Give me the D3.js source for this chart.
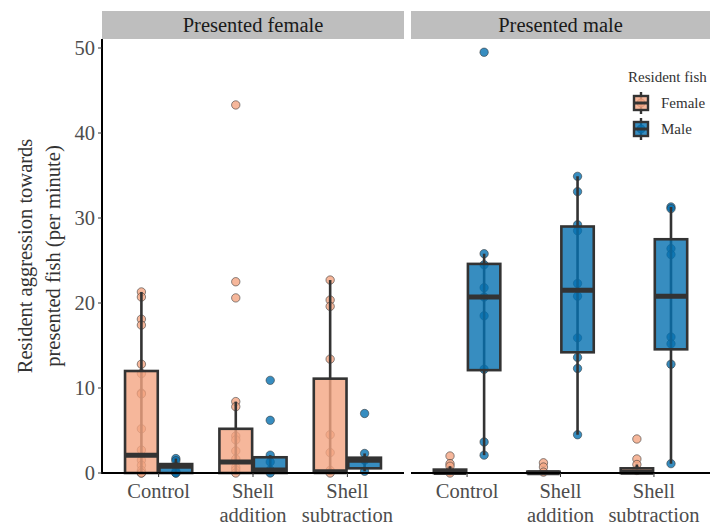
<!DOCTYPE html>
<meta charset="utf-8">
<style>
body { margin: 0; background: #fff; }
text { font-family: "Liberation Serif", "DejaVu Serif", serif; fill: #333; }
.strip-text { font-size: 20.5px; fill: #1a1a1a; }
.tick-label { font-size: 20.5px; fill: #4d4d4d; }
.axis-title { font-size: 20.5px; fill: #333; }
.legend-text { font-size: 15px; fill: #333; }
</style>
<body>
<script src="https://d3js.org/d3.v7.min.js"></script>
<script>
// categories
const panels = ["Presented female", "Presented male"];
const treatments = ["Control", "Shell addition", "Shell subtraction"];
const residents = ["Female", "Male"];
const yTicks = [0, 10, 20, 30, 40, 50];

// raw points, one array per panel / treatment / resident fish
const pfControlF = [21.3, 20.7, 18.1, 17.4, 12.8, 11.7, 9.4, 9.3, 5.2, 2.7, 1.5, 0.9, 0.3, 0, 0];
const pfControlM = [1.7, 1.45, 0.8, 0.2, 0, 0];
const pfAddF = [43.3, 22.5, 20.6, 8.4, 7.8, 4.35, 3.9, 2.6, 1.65, 0.67, 0.35, 0];
const pfAddM = [10.9, 6.2, 2.1, 1.3, 0.35, 0];
const pfSubF = [22.7, 20.35, 19.6, 13.4, 4.5, 2.4, 0.3, 0];
const pfSubM = [7.0, 2.3, 1.5, 0.2];
const pmControlF = [2.0, 1.1, 0.8, 0.2, 0];
const pmControlM = [49.5, 25.8, 24.5, 21.8, 20.7, 18.5, 12.2, 3.65, 2.1];
const pmAddF = [1.2, 0.7, 0.1];
const pmAddM = [34.9, 33.1, 29.2, 28.5, 22.3, 20.8, 15.9, 13.6, 12.3, 4.5];
const pmSubF = [4.0, 1.65, 1.0, 0.3];
const pmSubM = [31.3, 31.1, 26.4, 25.7, 16.0, 15.2, 12.8, 1.1];

// box stats in order: panel, treatment, resident (F then M)
const boxLow  = [0, 0, 0, 0, 0.1, 0.2,   0, 2.1, 0, 4.5, 0, 1.1];
const boxQ1   = [0, 0, 0, 0, 0.1, 0.55,  0, 12.1, 0, 14.2, 0, 14.55];
const boxMed  = [2.1, 0.8, 1.3, 0.35, 0.15, 1.5,   0.05, 20.7, 0.03, 21.5, 0.1, 20.8];
const boxQ3   = [12.0, 1.05, 5.2, 1.85, 11.1, 1.8,  0.4, 24.6, 0.15, 29.0, 0.55, 27.5];
const boxHigh = [21.3, 1.7, 8.4, 2.1, 22.7, 2.3,  0.8, 25.8, 0.15, 34.9, 1.0, 31.3];

const pointSets = [pfControlF, pfControlM, pfAddF, pfAddM, pfSubF, pfSubM,
                   pmControlF, pmControlM, pmAddF, pmAddM, pmSubF, pmSubM];

const fills = {Female: "#F4A582", Male: "#0571B0"};

const width = 710, height = 527;
const panelX = [[102, 404], [411, 710]];
const plotTop = 39, plotBottom = 473;

const svg = d3.select("body").append("svg")
    .attr("width", width)
    .attr("height", height);

const y = d3.scaleLinear().domain([0, (plotBottom - plotTop) / 8.5]).range([plotBottom, plotTop]);

// build the long table from the named arrays
const groups = [];
let k = 0;
panels.forEach(p => treatments.forEach(t => residents.forEach(r => {
  groups.push({panel: p, treatment: t, resident: r,
    values: pointSets[k], lo: boxLow[k], q1: boxQ1[k], med: boxMed[k], q3: boxQ3[k], hi: boxHigh[k]});
  k++;
})));

panels.forEach((p, pi) => {
  const g = svg.append("g");
  const x = d3.scaleBand().domain(treatments).range(panelX[pi]).paddingOuter(0.1).paddingInner(0);
  const xr = d3.scaleBand().domain(residents).range([x.bandwidth() * 0.135, x.bandwidth() * 0.865]);

  // strip
  g.append("rect")
      .attr("x", panelX[pi][0]).attr("y", 11)
      .attr("width", panelX[pi][1] - panelX[pi][0]).attr("height", plotTop - 11)
      .attr("fill", "#bebebe");
  g.append("text")
      .attr("class", "strip-text")
      .attr("x", (panelX[pi][0] + panelX[pi][1]) / 2).attr("y", 32)
      .attr("text-anchor", "middle")
      .text(p);

  const pg = groups.filter(d => d.panel === p);
  const cx = d => x(d.treatment) + xr(d.resident) + xr.bandwidth() / 2;
  const bw = xr.bandwidth() * 0.95;

  // points first, boxes drawn over them
  pg.forEach(d => {
    g.selectAll(null)
      .data(d.values)
      .enter().append("circle")
        .attr("cx", cx(d))
        .attr("cy", v => y(v))
        .attr("r", 4.2)
        .attr("fill", fills[d.resident])
        .attr("fill-opacity", 0.8)
        .attr("stroke", "#333")
        .attr("stroke-opacity", 0.7)
        .attr("stroke-width", 0.8);
  });

  const box = g.selectAll(".box")
    .data(pg)
    .enter().append("g");

  box.append("line")
      .attr("x1", cx).attr("x2", cx)
      .attr("y1", d => y(d.hi)).attr("y2", d => y(d.lo))
      .attr("stroke", "#333").attr("stroke-width", 2.6);
  box.append("rect")
      .attr("x", d => cx(d) - bw / 2)
      .attr("width", bw)
      .attr("y", d => y(d.q3))
      .attr("height", d => Math.max(0.5, y(d.q1) - y(d.q3)))
      .attr("fill", d => fills[d.resident])
      .attr("fill-opacity", 0.8)
      .attr("stroke", "#333").attr("stroke-width", 2.6);
  box.append("line")
      .attr("x1", d => cx(d) - bw / 2).attr("x2", d => cx(d) + bw / 2)
      .attr("y1", d => y(d.med)).attr("y2", d => y(d.med))
      .attr("stroke", "#333").attr("stroke-width", 5);

  // x axis
  g.append("line")
      .attr("x1", panelX[pi][0]).attr("x2", panelX[pi][1])
      .attr("y1", plotBottom).attr("y2", plotBottom)
      .attr("stroke", "#000").attr("stroke-width", 2);
  treatments.forEach(t => {
    const tx = x(t) + x.bandwidth() / 2;
    g.append("line")
        .attr("x1", tx).attr("x2", tx)
        .attr("y1", plotBottom).attr("y2", plotBottom + 4)
        .attr("stroke", "#333").attr("stroke-width", 1);
    const words = t.split(" ");
    const lbl = g.append("text")
        .attr("class", "tick-label")
        .attr("text-anchor", "middle")
        .attr("x", tx).attr("y", 498);
    words.forEach((w, i) => lbl.append("tspan").attr("x", tx).attr("dy", i ? 24 : 0).text(w));
  });

  if (pi === 0) {
    g.append("line")
        .attr("x1", panelX[0][0]).attr("x2", panelX[0][0])
        .attr("y1", plotTop).attr("y2", plotBottom + 1)
        .attr("stroke", "#000").attr("stroke-width", 2);
    yTicks.forEach(t => {
      g.append("line")
          .attr("x1", panelX[0][0] - 4).attr("x2", panelX[0][0])
          .attr("y1", y(t)).attr("y2", y(t))
          .attr("stroke", "#333").attr("stroke-width", 1);
      g.append("text")
          .attr("class", "tick-label")
          .attr("x", panelX[0][0] - 7).attr("y", y(t) + 7)
          .attr("text-anchor", "end")
          .text(t);
    });
  }
});

// y title
const yt = svg.append("text")
    .attr("class", "axis-title")
    .attr("transform", "translate(32," + ((plotTop + plotBottom) / 2) + ") rotate(-90)")
    .attr("text-anchor", "middle");
yt.append("tspan").attr("x", 0).attr("dy", 0).text("Resident aggression towards");
yt.append("tspan").attr("x", 0).attr("dy", 28).text("presented fish (per minute)");

// legend
const leg = svg.append("g");
leg.append("text")
    .attr("class", "legend-text")
    .attr("x", 628).attr("y", 82)
    .text("Resident fish");
residents.forEach((r, i) => {
  const ly = 103 + i * 26;
  const lg = leg.append("g");
  lg.append("line").attr("x1", 641).attr("x2", 641).attr("y1", ly - 11).attr("y2", ly + 11)
      .attr("stroke", "#333").attr("stroke-width", 2.4);
  lg.append("circle").attr("cx", 641).attr("cy", ly).attr("r", 4)
      .attr("fill", fills[r]).attr("fill-opacity", 0.8).attr("stroke", "#333").attr("stroke-opacity", 0.7).attr("stroke-width", 0.8);
  lg.append("rect").attr("x", 634).attr("y", ly - 7).attr("width", 14).attr("height", 14)
      .attr("fill", fills[r]).attr("fill-opacity", 0.8).attr("stroke", "#333").attr("stroke-width", 2.4);
  lg.append("line").attr("x1", 634).attr("x2", 648).attr("y1", ly).attr("y2", ly)
      .attr("stroke", "#333").attr("stroke-width", 3);
  lg.append("text").attr("class", "legend-text").attr("x", 661).attr("y", ly + 5)
      .text(r);
});
</script>
